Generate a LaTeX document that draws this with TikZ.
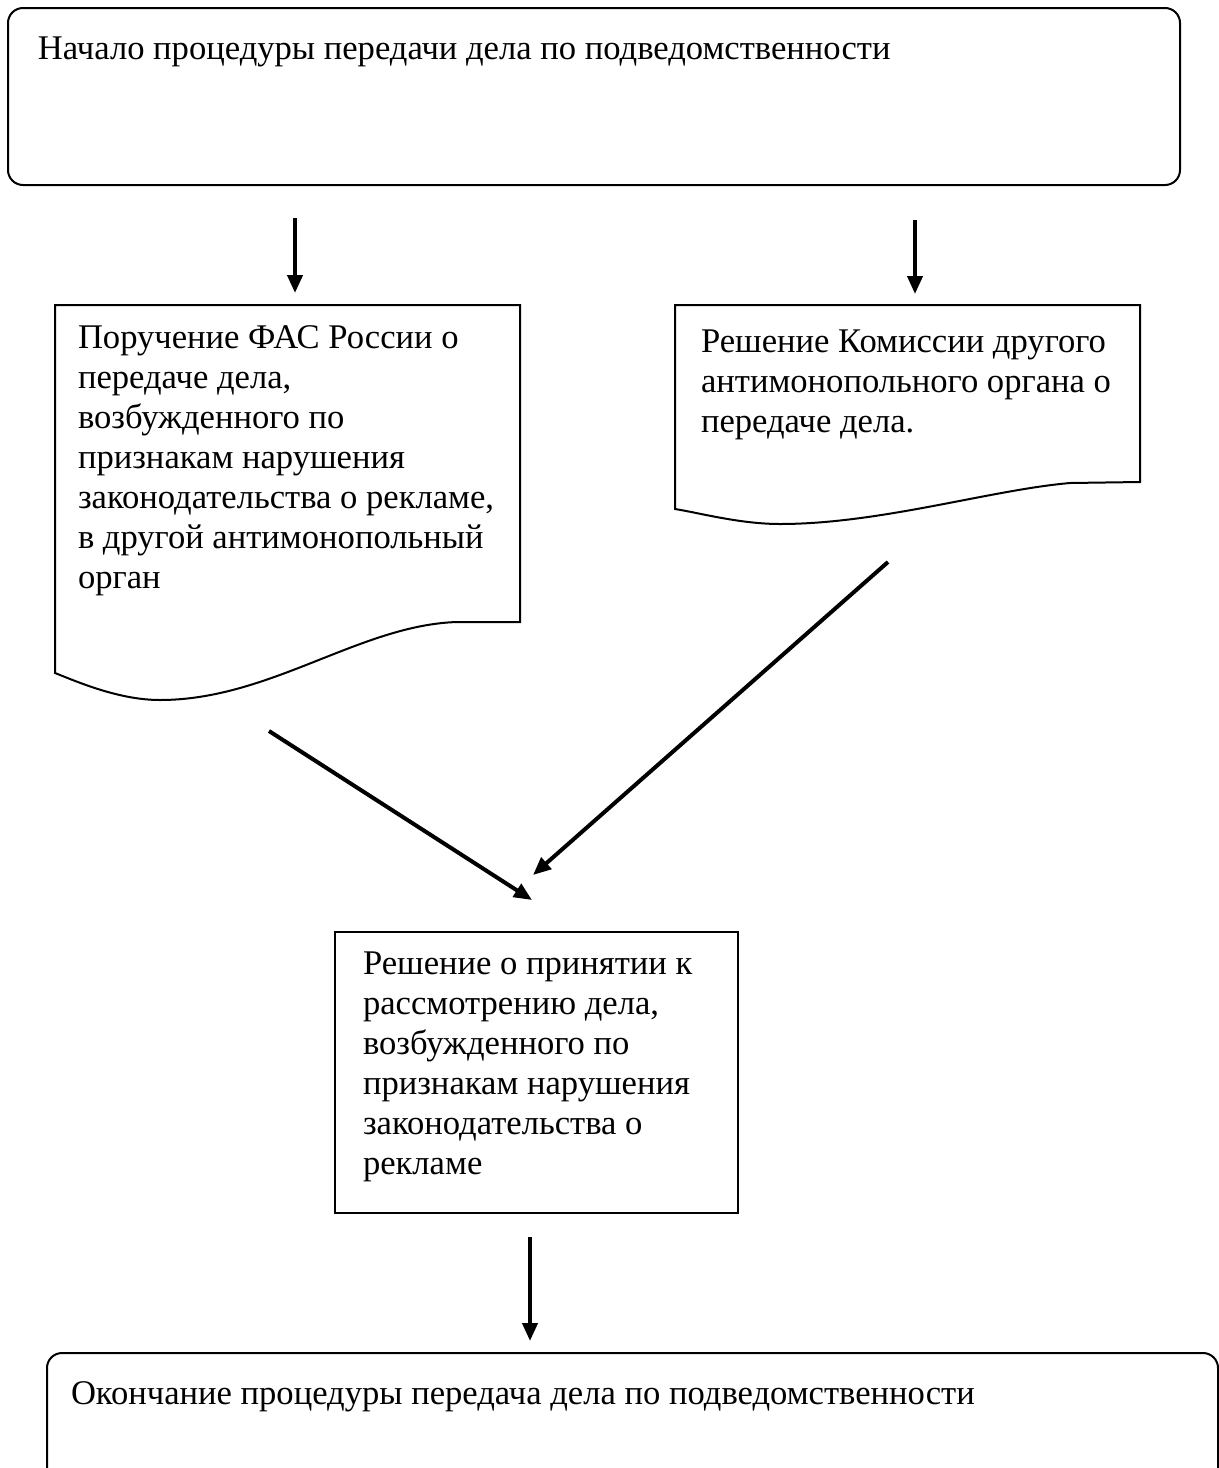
\documentclass[tikz,border=0pt]{standalone}
\usepackage{fontspec}
\setmainfont{Liberation Serif}
\usetikzlibrary{arrows.meta}

\tikzset{every picture/.style={line width=1pt}}

\begin{document}
\begin{tikzpicture}[x=0.5pt,y=0.5pt,yscale=-1,xscale=1,
	boxtext/.style={anchor=base west,inner sep=0pt,align=left,font=\fontsize{17.3}{20}\selectfont},
	flowarrow/.style={line width=2pt,-{Triangle[length=9pt,width=7.5pt]}}]
	\useasboundingbox (0,0) rectangle (1219,1468);
	\clip (0,0) rectangle (1219,1468);
	
	%Shape: Rounded Rect [start]
	\draw [rounded corners=7.5pt] (8,8) rectangle (1180,185) ;
	%Shape: Document [order]
	\draw (55,305) -- (520,305) -- (520,622) -- (457,622) .. controls (360,625) and (270,700) .. (160,700) .. controls (120,700) and (80,683) .. (55,673) -- cycle ;
	%Shape: Document [decision]
	\draw (675,305) -- (1140,305) -- (1140,482) -- (1070,483) .. controls (990,490) and (880,524) .. (780,524) .. controls (740,524) and (700,513) .. (675,509) -- cycle ;
	%Shape: Rectangle [accept]
	\draw (335,932) rectangle (738,1213) ;
	%Shape: Rounded Rect [finish]
	\draw [rounded corners=7.5pt] (47,1353) rectangle (1218,1520) ;
	
	% Arrow ends
	\coordinate (startL) at (295,218);
	\coordinate (orderIn) at (295,293);
	\coordinate (startR) at (915,220);
	\coordinate (decisionIn) at (915,294);
	\coordinate (orderOut) at (269,731);
	\coordinate (acceptInL) at (532,900);
	\coordinate (decisionOut) at (888,562);
	\coordinate (acceptInR) at (533,875);
	\coordinate (acceptOut) at (530,1237);
	\coordinate (finishIn) at (530,1341);
	
	%Straight Lines [arrows]
	\draw [flowarrow] (startL) -- (orderIn) ;
	\draw [flowarrow] (startR) -- (decisionIn) ;
	\draw [flowarrow] (orderOut) -- (acceptInL) ;
	\draw [flowarrow] (decisionOut) -- (acceptInR) ;
	\draw [flowarrow] (acceptOut) -- (finishIn) ;
	
	% Text Node (base = last line)
	\node [boxtext] (startText) at (37,59) {Начало процедуры передачи дела по подведомственности};
	% Text Node
	\node [boxtext] (orderText) at (77,588) {Поручение ФАС России о\\передаче дела,\\возбужденного по\\признакам нарушения\\законодательства о рекламе,\\в другой антимонопольный\\орган};
	% Text Node
	\node [boxtext] (decisionText) at (700,432) {Решение Комиссии другого\\антимонопольного органа о\\передаче дела.};
	% Text Node
	\node [boxtext] (acceptText) at (362,1174) {Решение о принятии к\\рассмотрению дела,\\возбужденного по\\признакам нарушения\\законодательства о\\рекламе};
	% Text Node
	\node [boxtext] (finishText) at (70,1404) {Окончание процедуры передача дела по подведомственности};
	
\end{tikzpicture}
\end{document}
